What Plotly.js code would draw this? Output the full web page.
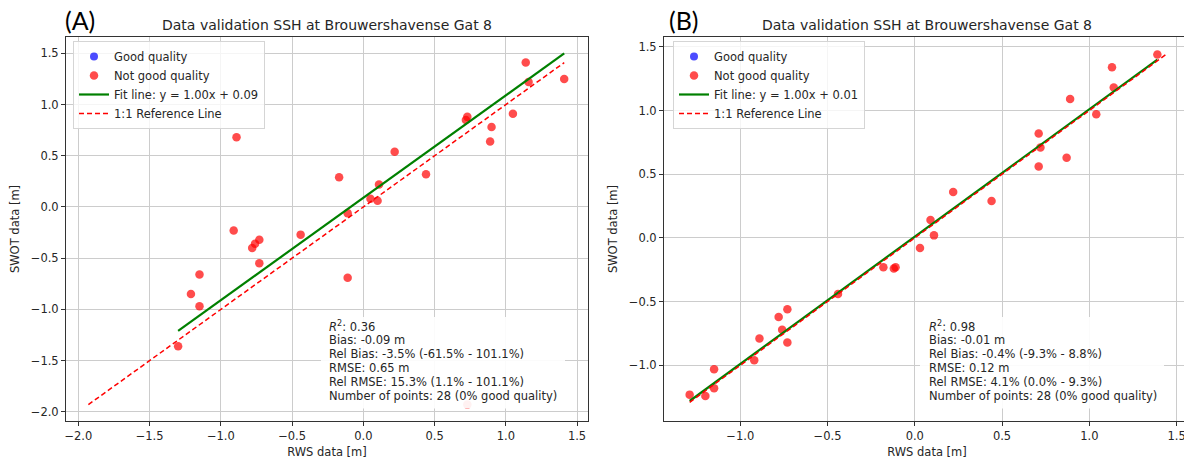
<!DOCTYPE html>
<html>
<head>
<meta charset="utf-8">
<script src="https://cdn.plot.ly/plotly-3.0.1.min.js"></script>
<style>
  html, body { margin: 0; padding: 0; overflow: hidden; background: #fff; }
  #chart { width: 1200px; height: 463px; }
</style>
</head>
<body>
<div id="chart"></div>
<script>
// ---- Data ----
// Panel (A)
const rwsA  = [-1.30, -1.21, -1.15, -1.15, -0.91, -0.89, -0.78, -0.76, -0.73, -0.73, -0.44, -0.17, -0.11, -0.11, 0.05, 0.10, 0.11, 0.22, 0.44, 0.72, 0.73, 0.73, 0.89, 0.90, 1.05, 1.14, 1.16, 1.41];
const swotA = [-1.36, -0.85, -0.66, -0.97, -0.23, 0.68, -0.40, -0.36, -0.32, -0.55, -0.27, 0.29, -0.06, -0.69, 0.08, 0.06, 0.22, 0.54, 0.32, 0.85, 0.88, -1.93, 0.64, 0.78, 0.91, 1.41, 1.22, 1.25];
const fitA = { slope: 1.00, intercept: 0.09 };
const statsA = ["<i>R</i><sup>2</sup>: 0.36", "Bias: -0.09 m", "Rel Bias: -3.5% (-61.5% - 101.1%)", "RMSE: 0.65 m", "Rel RMSE: 15.3% (1.1% - 101.1%)", "Number of points: 28 (0% good quality)"];

// Panel (B)
const rwsB  = [-1.29, -1.20, -1.15, -1.15, -0.92, -0.89, -0.78, -0.76, -0.73, -0.73, -0.44, -0.18, -0.12, -0.11, 0.03, 0.09, 0.11, 0.22, 0.44, 0.71, 0.72, 0.71, 0.87, 0.89, 1.04, 1.13, 1.14, 1.39];
const swotB = [-1.23, -1.24, -1.03, -1.18, -0.96, -0.79, -0.62, -0.72, -0.56, -0.82, -0.44, -0.23, -0.24, -0.23, -0.08, 0.14, 0.02, 0.36, 0.29, 0.82, 0.71, 0.56, 0.63, 1.09, 0.97, 1.34, 1.18, 1.44];
const fitB = { slope: 1.00, intercept: 0.01 };
const statsB = ["<i>R</i><sup>2</sup>: 0.98", "Bias: -0.01 m", "Rel Bias: -0.4% (-9.3% - 8.8%)", "RMSE: 0.12 m", "Rel RMSE: 4.1% (0.0% - 9.3%)", "Number of points: 28 (0% good quality)"];

const titleText = "Data validation SSH at Brouwershavense Gat 8";
const panelLabels = ["(A)", "(B)"];
const legendNames = ["Good quality", "Not good quality", "Fit line: y = 1.00x + ", "1:1 Reference Line"];

// ---- Geometry (px) ----
const W = 1200, H = 463;
const FONT = "DejaVu Sans, sans-serif";
const px = v => v / W;
const py = v => 1 - v / H;

function panelTraces(x, y, fit, xa, ya, leg) {
  const xmin = Math.min(...x), xmax = Math.max(...x);
  const lo = Math.min(xmin, Math.min(...y)), hi = Math.max(xmax, Math.max(...y));
  return [
    { type: 'scatter', mode: 'markers', x: [null], y: [null], xaxis: xa, yaxis: ya, legend: leg,
      name: legendNames[0], marker: { color: 'rgba(0,0,255,0.7)', size: 8 } },
    { type: 'scatter', mode: 'markers', x: x, y: y, xaxis: xa, yaxis: ya, legend: leg,
      name: legendNames[1], marker: { color: 'rgba(255,0,0,0.7)', size: 8.5 } },
    { type: 'scatter', mode: 'lines', x: [xmin, xmax],
      y: [fit.slope * xmin + fit.intercept, fit.slope * xmax + fit.intercept], xaxis: xa, yaxis: ya, legend: leg,
      name: legendNames[2] + fit.intercept.toFixed(2), line: { color: 'green', width: 2.2 } },
    { type: 'scatter', mode: 'lines', x: [lo, hi], y: [lo, hi], xaxis: xa, yaxis: ya, legend: leg,
      name: legendNames[3], line: { color: 'red', width: 1.5, dash: '5px,3px' } }
  ];
}

const data = [].concat(
  panelTraces(rwsA, swotA, fitA, 'x', 'y', 'legend'),
  panelTraces(rwsB, swotB, fitB, 'x2', 'y2', 'legend2')
);

const axisCommon = {
  showgrid: true, gridcolor: '#cccccc', gridwidth: 1, zeroline: false,
  showline: true, linecolor: '#333333', linewidth: 1, mirror: true,
  ticks: 'outside', ticklen: 4, tickcolor: '#333333', tickwidth: 1,
  dtick: 0.5, tick0: 0, tickformat: '.1f',
  tickfont: { family: FONT, size: 11.5, color: '#262626' },
  fixedrange: true
};
const ydom = [py(421), py(37)];

const layout = {
  width: W, height: H,
  margin: { l: 0, r: 0, t: 0, b: 0 },
  paper_bgcolor: '#ffffff', plot_bgcolor: '#ffffff',
  font: { family: FONT, size: 11.5, color: '#262626' },
  showlegend: true,
  xaxis: Object.assign({}, axisCommon, { domain: [px(66), px(588)], range: [-2.087, 1.577], anchor: 'y',
    title: { text: 'RWS data [m]', font: { family: FONT, size: 11.5, color: '#262626' }, standoff: 6 } }),
  yaxis: Object.assign({}, axisCommon, { domain: ydom, range: [-2.09, 1.66], anchor: 'x',
    title: { text: 'SWOT data [m]', font: { family: FONT, size: 11.5, color: '#262626' }, standoff: 8 } }),
  xaxis2: Object.assign({}, axisCommon, { domain: [px(664), px(1190)], range: [-1.437, 1.577], anchor: 'y2',
    title: { text: 'RWS data [m]', font: { family: FONT, size: 11.5, color: '#262626' }, standoff: 6 } }),
  yaxis2: Object.assign({}, axisCommon, { domain: ydom, range: [-1.437, 1.577], anchor: 'x2',
    title: { text: 'SWOT data [m]', font: { family: FONT, size: 11.5, color: '#262626' }, standoff: 8 } }),
  legend: { x: px(73), y: py(41), xanchor: 'left', yanchor: 'top', bgcolor: 'rgba(255,255,255,0.8)',
    bordercolor: '#d5d5d5', borderwidth: 1, font: { family: FONT, size: 11.5, color: '#262626' } },
  legend2: { x: px(673), y: py(41), xanchor: 'left', yanchor: 'top', bgcolor: 'rgba(255,255,255,0.8)',
    bordercolor: '#d5d5d5', borderwidth: 1, font: { family: FONT, size: 11.5, color: '#262626' } },
  shapes: [
    { type: 'rect', xref: 'paper', yref: 'paper', x0: px(321), x1: px(565), y0: py(408.5), y1: py(317),
      fillcolor: 'rgba(255,255,255,0.92)', line: { width: 0 }, layer: 'above' },
    { type: 'rect', xref: 'paper', yref: 'paper', x0: px(920), x1: px(1164), y0: py(408.5), y1: py(317),
      fillcolor: 'rgba(255,255,255,0.92)', line: { width: 0 }, layer: 'above' }
  ],
  annotations: []
};

function addText(text, x, y, opts) {
  layout.annotations.push(Object.assign({
    text: text, xref: 'paper', yref: 'paper', x: px(x), y: py(y), showarrow: false,
    xanchor: 'center', yanchor: 'middle', font: { family: FONT, size: 11.5, color: '#262626' }
  }, opts || {}));
}

// titles
addText(titleText, 327, 25, { font: { family: FONT, size: 14, color: '#262626' } });
addText(titleText, 927, 25, { font: { family: FONT, size: 14, color: '#262626' } });
// panel labels
addText(panelLabels[0], 80, 20, { font: { family: 'Lato, sans-serif', size: 25, color: '#000' } });
addText(panelLabels[1], 684, 20, { font: { family: 'Lato, sans-serif', size: 25, color: '#000' } });
// stats
statsA.forEach((t, i) => addText(t, 327, 326 + 13.9 * i, { xanchor: 'left' }));
statsB.forEach((t, i) => addText(t, 927, 326 + 13.9 * i, { xanchor: 'left' }));

Plotly.newPlot('chart', data, layout, { displayModeBar: false, staticPlot: true });
</script>
</body>
</html>
